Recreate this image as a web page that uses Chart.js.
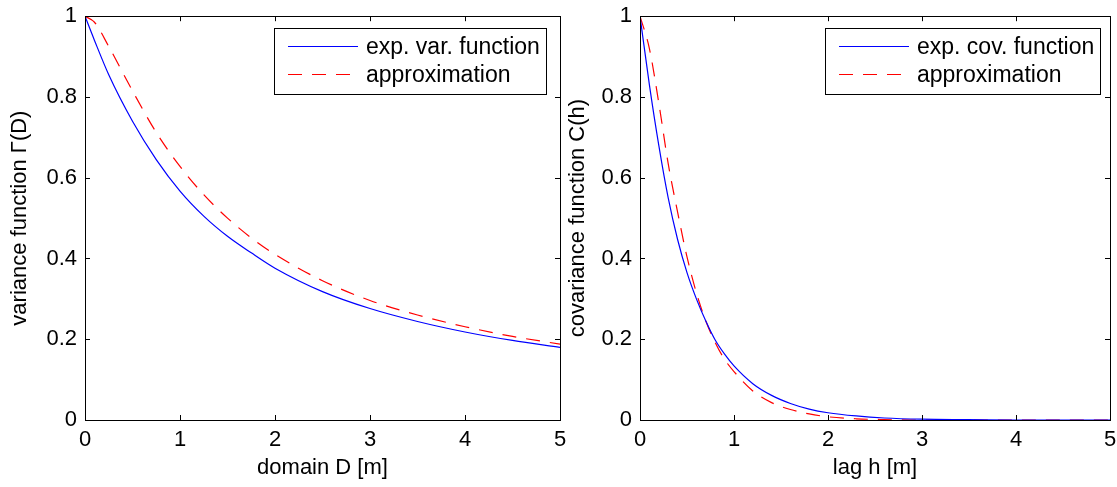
<!DOCTYPE html>
<html>
<head>
<meta charset="utf-8">
<script src="https://cdn.jsdelivr.net/npm/chart.js@4/dist/chart.umd.min.js"></script>
<style>
  html, body { margin: 0; padding: 0; background: #fff; overflow: hidden; }
  #wrap { position: relative; width: 1117px; height: 487px; overflow: hidden; }
  canvas { position: absolute; top: -5px; }
</style>
</head>
<body>
<div id="wrap">
  <canvas id="varChart" width="575" height="492" style="left:0"></canvas>
  <canvas id="covChart" width="565" height="492" style="left:560px"></canvas>
</div>
<script>
// ===== DATA =====
const domainD   = [0, 0.1, 0.25, 0.5, 0.75, 1, 1.25, 1.5, 1.75, 2, 2.5, 3, 3.5, 4, 4.5, 5];
const varExp    = [1, 0.94, 0.855, 0.74, 0.645, 0.567, 0.505, 0.455, 0.414, 0.376, 0.318, 0.276, 0.244, 0.218, 0.197, 0.18];
const varApprox = [1, 0.985, 0.925, 0.815, 0.712, 0.628, 0.558, 0.5, 0.451, 0.41, 0.345, 0.296, 0.26, 0.231, 0.207, 0.188];

const lagH      = [0, 0.1, 0.2, 0.3, 0.4, 0.5, 0.6, 0.7, 0.8, 0.9, 1, 1.2, 1.4, 1.6, 1.8, 2, 2.3, 2.6, 3, 3.5, 4, 4.5, 5];
const covExp    = [1, 0.83, 0.68, 0.55, 0.447, 0.365, 0.3, 0.245, 0.198, 0.163, 0.134, 0.09, 0.061, 0.041, 0.027, 0.018, 0.01, 0.005, 0.002, 0.001, 0, 0, 0];
const covApprox = [1, 0.92, 0.785, 0.635, 0.515, 0.404, 0.315, 0.245, 0.192, 0.15, 0.12, 0.072, 0.043, 0.026, 0.015, 0.008, 0.003, 0.001, 0, 0, 0, 0, 0];

const xTicks = [0, 1, 2, 3, 4, 5];
const yTicks = [0, 0.2, 0.4, 0.6, 0.8, 1];

const FONT = "'Liberation Sans', Arial, Helvetica, sans-serif";
const FSIZE = 22;

// ===== helpers =====
function pts(xs, ys) { return xs.map((x, i) => ({ x: x, y: ys[i] })); }

// box with inward ticks on all four sides (matlab style)
const boxPlugin = {
  id: "box",
  afterDatasetsDraw(chart) {
    const { ctx, chartArea: a, scales } = chart;
    ctx.save();
    ctx.strokeStyle = "#000";
    ctx.lineWidth = 1;
    ctx.strokeRect(Math.round(a.left) + 0.5, Math.round(a.top) + 0.5, Math.round(a.right - a.left), Math.round(a.bottom - a.top));
    ctx.beginPath();
    xTicks.forEach(v => {
      const px = Math.round(scales.x.getPixelForValue(v)) + 0.5;
      ctx.moveTo(px, a.bottom); ctx.lineTo(px, a.bottom - 5);
      ctx.moveTo(px, a.top); ctx.lineTo(px, a.top + 5);
    });
    yTicks.forEach(v => {
      const py = Math.round(scales.y.getPixelForValue(v)) + 0.5;
      ctx.moveTo(a.left, py); ctx.lineTo(a.left + 5, py);
      ctx.moveTo(a.right, py); ctx.lineTo(a.right - 5, py);
    });
    ctx.stroke();
    ctx.restore();
  }
};

// boxed legend in upper right corner
const legendPlugin = {
  id: "boxLegend",
  afterDraw(chart, args, opts) {
    const { ctx, chartArea: a } = chart;
    const ds = chart.data.datasets;
    ctx.save();
    ctx.font = "23px " + FONT;
    const tw = Math.max(...ds.map(d => ctx.measureText(d.label).width));
    const w = Math.round(92 + tw + 6), h = 66;
    const x0 = Math.round(a.right - opts.right - w), y0 = Math.round(a.top + 12);
    ctx.fillStyle = "#fff";
    ctx.fillRect(x0, y0, w, h);
    ctx.strokeStyle = "#000";
    ctx.lineWidth = 1;
    ctx.strokeRect(x0 + 0.5, y0 + 0.5, w, h);
    ds.forEach((d, i) => {
      const ly = y0 + 18 + i * 28 + 0.5;
      ctx.beginPath();
      ctx.strokeStyle = d.borderColor;
      ctx.lineWidth = d.borderWidth;
      ctx.setLineDash(d.borderDash || []);
      ctx.moveTo(x0 + 14, ly); ctx.lineTo(x0 + 84, ly);
      ctx.stroke();
      ctx.setLineDash([]);
      ctx.fillStyle = "#000";
      ctx.textBaseline = "middle";
      ctx.fillText(d.label, x0 + 92, ly + 1);
    });
    ctx.restore();
  }
};

function makeChart(id, xs, ySolid, yDash, labels, xTitle, yTitle, yAxisW, yTitlePad, padRight, legendRight) {
  return new Chart(document.getElementById(id), {
    type: "line",
    data: {
      datasets: [
        { label: labels[0], data: pts(xs, ySolid), borderColor: "#0000ff", borderWidth: 1.2, pointRadius: 0, cubicInterpolationMode: "monotone" },
        { label: labels[1], data: pts(xs, yDash), borderColor: "#ff0000", borderWidth: 1.2, borderDash: [14, 10], pointRadius: 0, cubicInterpolationMode: "monotone" }
      ]
    },
    options: {
      responsive: false,
      animation: false,
      devicePixelRatio: 1,
      layout: { padding: { top: 15, right: padRight, left: 0, bottom: 0 } },
      plugins: { legend: { display: false }, tooltip: { enabled: false }, boxLegend: { right: legendRight } },
      scales: {
        x: {
          type: "linear", min: 0, max: 5,
          grid: { display: false, drawTicks: false },
          border: { display: false },
          ticks: { stepSize: 1, padding: 7, color: "#000", font: { family: FONT, size: FSIZE } },
          title: { display: true, text: xTitle, color: "#000", font: { family: FONT, size: FSIZE }, padding: { top: 0, bottom: 6 } },
          afterFit: s => { s.height = 67; }
        },
        y: {
          type: "linear", min: 0, max: 1,
          grid: { display: false, drawTicks: false },
          border: { display: false },
          ticks: {
            stepSize: 0.2, padding: 8, color: "#000", font: { family: FONT, size: FSIZE },
            callback: v => String(Math.round(v * 10) / 10)
          },
          title: { display: true, text: yTitle, color: "#000", font: { family: FONT, size: FSIZE }, padding: { top: yTitlePad, bottom: 0 } },
          afterFit: s => { s.width = yAxisW; }
        }
      }
    },
    plugins: [boxPlugin, legendPlugin]
  });
}

makeChart("varChart", domainD, varExp, varApprox, ["exp. var. function", "approximation"],
  "domain D [m]", "variance function \u0393(D)", 85, 7, 15, 14);
makeChart("covChart", lagH, covExp, covApprox, ["exp. cov. function", "approximation"],
  "lag h [m]", "covariance function C(h)", 80, 5, 15, 10);
</script>
</body>
</html>
